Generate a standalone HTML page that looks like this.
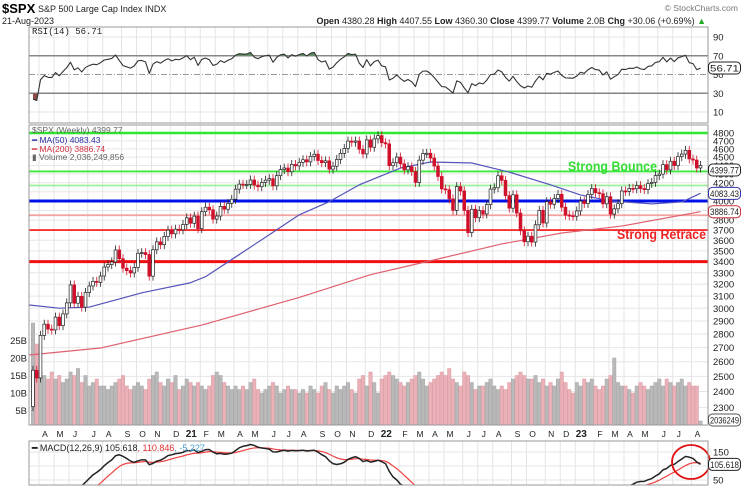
<!DOCTYPE html>
<html><head><meta charset="utf-8"><style>
html,body{margin:0;padding:0;background:#fff;width:741px;height:486px;overflow:hidden}
svg{display:block;font-family:"Liberation Sans",sans-serif}
</style></head><body>
<svg id="chart" width="741" height="486" viewBox="0 0 741 486" xmlns="http://www.w3.org/2000/svg">
<rect width="741" height="486" fill="#fff"/>
<g>
<text x="2" y="13" font-size="13" font-weight="bold">$SPX</text>
<text x="38" y="12" font-size="9" fill="#222">S&amp;P 500 Large Cap Index INDX</text>
<text x="738" y="11" font-size="8.5" fill="#777" text-anchor="end">© StockCharts.com</text>
<text x="2" y="24" font-size="9" fill="#222">21-Aug-2023</text>
<text x="706" y="24" font-size="9" fill="#222" text-anchor="end"><tspan font-weight="bold">Open</tspan> 4380.28 <tspan font-weight="bold">High</tspan> 4407.55 <tspan font-weight="bold">Low</tspan> 4360.30 <tspan font-weight="bold">Close</tspan> 4399.77 <tspan font-weight="bold">Volume</tspan> 2.0B <tspan font-weight="bold">Chg</tspan> +30.06 (+0.69%) <tspan fill="#2a2">▲</tspan></text>
</g>
<g id="grid"></g>
<g id="vol"></g>
<g id="lines"></g>
<g id="candles"></g>
<g id="rsi"></g>
<g id="macd"></g>
<g id="axes"></g>
</svg>
<script>
const closes=[2541,2489,2790,2875,2837,2831,2930,2864,2955,3044,3194,3041,3098,3009,3130,3185,3225,3216,3271,3351,3373,3397,3508,3427,3341,3319,3298,3348,3477,3484,3465,3270,3510,3585,3558,3638,3699,3663,3709,3703,3756,
3824,3768,3841,3714,3887,3934,3907,3811,3842,3943,3913,3975,4019,4129,4185,4180,4181,4232,4174,4156,4204,4230,4247,4166,4281,4352,4370,4327,4412,4395,4437,4468,4442,4509,4535,4459,4433,4455,4357,4391,4471,4545,4605,4697,4683,4698,4595,4538,4712,4620,4725,4766,
4677,4662,4398,4432,4500,4419,4349,4385,4329,4204,4463,4543,4546,4488,4393,4272,4132,4123,4023,3901,4158,4109,3901,3675,3912,3825,3899,3863,3962,4130,4145,4280,4228,4058,3924,4067,3873,3693,3586,3640,3583,3753,3901,3771,3993,3965,4026,4072,3934,3852,3845,3840,
3895,3999,3973,4071,4136,4090,4079,3970,4046,3862,3917,3971,4109,4105,4138,4133,4169,4136,4124,4192,4205,4282,4299,4410,4348,4450,4399,4505,4536,4582,4478,4464,4370,4400];
const volumes=[30,24,16,15,14,16,14,15,13,14,16,15,17,13,15,12,13,14,12,12,11,12,13,14,15,12,11,12,13,12,11,14,15,16,13,12,14,13,15,11,12,
14,13,12,13,12,11,12,15,16,15,13,12,11,12,11,12,11,13,14,11,10,11,12,13,12,10,11,12,11,11,10,11,10,12,11,10,12,13,11,10,12,11,12,13,11,10,14,15,12,16,13,10,
14,15,16,15,14,13,12,13,14,15,16,14,12,13,14,15,16,15,17,14,13,12,16,15,13,11,12,12,13,14,12,11,12,11,13,14,15,16,15,14,14,15,13,14,12,13,12,14,16,13,11,10,
13,12,14,13,14,12,11,12,14,15,20,13,12,12,11,10,12,13,12,11,12,13,14,12,14,13,12,13,14,12,13,12,12,2];
const ma50Weeks=[-1,7,15,29,42,46,55,63,71,79,87,98,106,117,127,138,146,154,165,173,178];
const ma50Vals=[3027,3001,3010,3127,3213,3265,3465,3654,3855,3993,4177,4370,4441,4429,4322,4177,4066,4001,3969,3990,4083];
const ma200Weeks=[-1,18,45,71,90,106,125,141,157,178];
const ma200Vals=[2647,2697,2868,3089,3283,3408,3565,3671,3740,3887];
const priceTicks=[4800,4700,4600,4500,4400,4300,4200,4100,4000,3900,3800,3700,3600,3500,3400,3300,3200,3100,3000,2900,2800,2700,2600,2500,2400,2300];
const rsiTicks=[90,70,50,30,10];
const volTicks=[25,20,15,10,5];
const monthLetters=['J','F','M','A','M','J','J','A','S','O','N','D'];

const NS='http://www.w3.org/2000/svg';
function mk(parent,tag,attrs){const e=document.createElementNS(NS,tag);for(const k in attrs)e.setAttribute(k,attrs[k]);document.getElementById(parent).appendChild(e);return e;}
const X0=29,X1=708;
const xw=i=>33+i*3.75;
const yp=p=>133+373*Math.log(4800/p);
const yr=v=>37+(90-v)*0.9375;
const yv=v=>428-v*3.5;
const ym=v=>Math.max(441,Math.min(486,452+(150-v)*0.28));

const defs=mk('chart','defs',{});
function clip(id,x,y,w,h){const c=document.createElementNS(NS,'clipPath');c.setAttribute('id',id);const r=document.createElementNS(NS,'rect');r.setAttribute('x',x);r.setAttribute('y',y);r.setAttribute('width',w);r.setAttribute('height',h);c.appendChild(r);defs.appendChild(c);}
clip('cp-price',X0,125,X1-X0,300);clip('cp-rsi',X0,27,X1-X0,96);clip('cp-macd',X0,441,X1-X0,44.4);
clip('cp-ob',X0,27,X1-X0,yr(70)-27);clip('cp-os',X0,yr(30),X1-X0,123-yr(30));
document.getElementById('vol').setAttribute('clip-path','url(#cp-price)');
document.getElementById('lines').setAttribute('clip-path','url(#cp-price)');
document.getElementById('candles').setAttribute('clip-path','url(#cp-price)');
document.getElementById('macd').setAttribute('clip-path','url(#cp-macd)');

const start=new Date(2020,2,23);
let prevM=start.getMonth();
for(let i=1;i<closes.length;i++){
  const d=new Date(start.getTime()+i*7*86400000);const m=d.getMonth();
  if(m!==prevM){
    const x=xw(i)-1.5;
    for(const [a,b] of [[27,123],[125,425],[441,485]]){
      const l=mk('grid','line',{x1:x,x2:x,y1:a,y2:b,stroke:'#e4e4e4','stroke-width':1});
      
    }
    const isYear=m===0;
    const t=mk('axes','text',{x:x+6,y:437,'font-size':isYear?10:8.5,'font-weight':isYear?'bold':'normal','text-anchor':'middle',fill:'#222'});
    t.textContent=isYear?String(d.getFullYear()).slice(2):monthLetters[m];
    
  }
  prevM=m;
}
priceTicks.forEach(p=>{
  const l=mk('grid','line',{x1:X0,x2:X1,y1:yp(p),y2:yp(p),stroke:'#e6e6e6','stroke-width':1});
  
  const t=mk('axes','text',{x:713,y:yp(p)+3.5,'font-size':9.5,fill:'#222'});t.textContent=p;
  
});
rsiTicks.forEach(v=>{
  if(v===90||v===10){const l=mk('grid','line',{x1:X0,x2:X1,y1:yr(v),y2:yr(v),stroke:'#e6e6e6'});}
  const t=mk('axes','text',{x:713,y:yr(v)+3.5,'font-size':9.5,fill:'#222'});t.textContent=v;
  
});
volTicks.forEach(v=>{
  const t=mk('axes','text',{x:27,y:yv(v)+3.5,'font-size':9.5,fill:'#222','text-anchor':'end'});t.textContent=v+'B';
  
});
[150,100,50].forEach(v=>{const l=mk('grid','line',{x1:X0,x2:X1,y1:ym(v),y2:ym(v),stroke:'#e6e6e6'});});
[150,50].forEach(v=>{const t=mk('axes','text',{x:713,y:ym(v)+3.5,'font-size':9.5,fill:'#222'});t.textContent=v;});

for(let i=0;i<volumes.length;i++){
  const o=i?closes[i-1]:2305,down=closes[i]<o;
  const r=mk('vol','rect',{x:xw(i)-1.7,y:yv(volumes[i]),width:3.4,height:425-yv(volumes[i]),fill:down?'#eab2b8':'#b9b9b9',stroke:down?'#d99aa2':'#a5a5a5','stroke-width':0.5});
  
}
[[4800,'#2ee82e',2.5,'level-4800'],[4330,'#3ee83e',1.8,'level-4330'],[4170,'#9cf09c',1.8,'level-4170'],[4000,'#0010e8',3,'level-4000'],[3850,'#f4a0a0',1.8,'level-3850'],[3700,'#f43030',1.8,'level-3700'],[3400,'#f01010',3,'level-3400']].forEach(a=>{
  const l=mk('lines','line',{x1:X0,x2:X1,y1:yp(a[0]),y2:yp(a[0]),stroke:a[1],'stroke-width':a[2]});
  
});
function poly(g,wk,vals,fy,color,w,name){
  const pts=wk.map((k,j)=>xw(k)+','+fy(vals[j])).join(' ');
  const p=mk(g,'polyline',{points:pts,fill:'none',stroke:color,'stroke-width':w,'stroke-linejoin':'round'});
  return p;
}
poly('lines',ma50Weeks,ma50Vals,yp,'#5555bb',1.2,'ma50-line');
poly('lines',ma200Weeks,ma200Vals,yp,'#e06070',1.2,'ma200-line');
for(let i=0;i<closes.length;i++){
  const o=i?closes[i-1]:2305,c=closes[i],hi=Math.max(o,c)*1.012,lo=Math.min(o,c)*0.988,down=c<o;
  const x=xw(i);
  const wk=mk('candles','line',{x1:x,x2:x,y1:yp(hi),y2:Math.min(425,yp(lo)),stroke:down?'#d0102a':'#222','stroke-width':0.8});
  
  const top=yp(Math.max(o,c)),bh=Math.max(1,yp(Math.min(o,c))-top);
  const b=mk('candles','rect',{x:x-1.4,y:top,width:2.8,height:Math.min(bh,425-top),fill:down?'#d0102a':'#fff',stroke:down?'#d0102a':'#222','stroke-width':0.7});
  
}
const rsi=[];let ag=15,al=45;
for(let i=0;i<closes.length;i++){const ch=i?closes[i]-closes[i-1]:-40;ag=(ag*13+Math.max(ch,0))/14;al=(al*13+Math.max(-ch,0))/14;rsi.push(100-100/(1+ag/al));}
const idx=rsi.map((_,i)=>i);
[[70,'#888','','rsi-70-line'],[30,'#888','','rsi-30-line'],[50,'#999','6 2 1 2','rsi-50-line']].forEach(a=>{
  const l=mk('rsi','line',{x1:X0,x2:X1,y1:yr(a[0]),y2:yr(a[0]),stroke:a[1],'stroke-width':a[0]===50?1:1.5,'stroke-dasharray':a[2]});
  
});
const area=(lvl)=>'M'+xw(0)+','+yr(lvl)+' '+rsi.map((v,i)=>'L'+xw(i)+','+yr(v)).join(' ')+' L'+xw(rsi.length-1)+','+yr(lvl)+'Z';
const ob=mk('rsi','path',{d:area(70),fill:'#5a8a5a','clip-path':'url(#cp-ob)'});
const os=mk('rsi','path',{d:area(30),fill:'#8a4a4a','clip-path':'url(#cp-os)'});
poly('rsi',idx,rsi,yr,'#333',1.1,'rsi-line').setAttribute('clip-path','url(#cp-rsi)');
let e12=2620,e26=2880,sig=-60;const macd=[],signal=[];
for(let i=0;i<closes.length;i++){e12+=(closes[i]-e12)*2/13;e26+=(closes[i]-e26)*2/27;const m=e12-e26;sig+=(m-sig)*2/10;macd.push(m);signal.push(sig);}
poly('macd',idx,signal,ym,'#f04040',1.2,'macd-signal-line');
poly('macd',idx,macd,ym,'#222',1.5,'macd-line');
const circ=mk('chart','ellipse',{cx:691,cy:462,rx:19,ry:17,fill:'none',stroke:'#e01010','stroke-width':1.8});

</script>
<script>
const svg=document.getElementById('chart');
function add(tag,attrs,text,name){const e=document.createElementNS('http://www.w3.org/2000/svg',tag);for(const k in attrs)e.setAttribute(k,attrs[k]);if(text!=null)e.textContent=text;


svg.appendChild(e);return e;}
add('rect',{x:29,y:27,width:679,height:96,fill:'none',stroke:'#999','stroke-width':1},null,'rsi-panel-border');
add('rect',{x:29,y:125,width:679,height:300,fill:'none',stroke:'#999','stroke-width':1},null,'price-panel-border');
add('rect',{x:29,y:441,width:679,height:44,fill:'none',stroke:'#999','stroke-width':1},null,'macd-panel-border');
add('text',{x:32,y:34,'font-size':9,fill:'#222','font-family':'Liberation Mono, monospace'},'RSI(14) 56.71','rsi-legend');
add('text',{x:32,y:133,'font-size':8.5,fill:'#666'},'$SPX (Weekly) 4399.77','price-legend');
add('text',{x:32,y:143,'font-size':8.5,fill:'#2a2aa0'},'━ MA(50) 4083.43','ma50-legend');
add('text',{x:32,y:152,'font-size':8.5,fill:'#d03040'},'━ MA(200) 3886.74','ma200-legend');
add('text',{x:32,y:160,'font-size':8.5,fill:'#666'},'▮ Volume 2,036,249,856','volume-legend');
const ml=add('text',{x:32,y:451,'font-size':9,fill:'#222'},null,'macd-legend');
ml.innerHTML='<tspan font-weight="bold">━</tspan> MACD(12,26,9) 105.618<tspan fill="#e03030">, 110.846</tspan><tspan fill="#4aa0d0">, -5.227</tspan>';
add('text',{x:568,y:171,'font-size':13.5,'font-weight':'bold',fill:'#33dd33',textLength:89,lengthAdjust:'spacingAndGlyphs'},'Strong Bounce','strong-bounce-label');
add('text',{x:617,y:239,'font-size':13.5,'font-weight':'bold',fill:'#ee2222',textLength:89,lengthAdjust:'spacingAndGlyphs'},'Strong Retrace','strong-retrace-label');
function box(y,txt,color,name){add('rect',{x:708.5,y:y-6,width:32,height:12,rx:4,fill:'#fff',stroke:color,'stroke-width':1},null,name+'-box');add('text',{x:710,y:y+3.5,'font-size':9.5,fill:'#222',textLength:29,lengthAdjust:'spacingAndGlyphs'},txt,name);}
box(68,'56.71','#222','rsi-value-label');
box(170,'4399.77','#222','close-value-label');
box(yp(4083),'4083.43','#3333aa','ma50-value-label');
box(yp(3887),'3886.74','#d03040','ma200-value-label');
box(420,'2036249','#555','volume-value-label');
box(ym(105.6),'105.618','#222','macd-value-label');
</script>
</body></html>
